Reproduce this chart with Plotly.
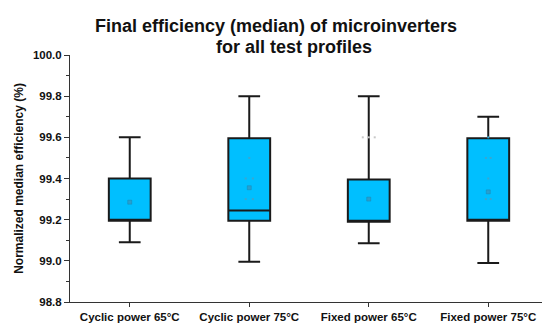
import plotly.graph_objects as go

categories = ["Cyclic power 65°C", "Cyclic power 75°C", "Fixed power 65°C", "Fixed power 75°C"]
q1 = [99.195, 99.195, 99.19, 99.195]
median = [99.195, 99.245, 99.19, 99.195]
q3 = [99.40, 99.595, 99.395, 99.595]
lower_whisker = [99.09, 98.995, 99.085, 98.99]
upper_whisker = [99.60, 99.80, 99.80, 99.70]
means = [99.285, 99.355, 99.30, 99.335]

# faint individual points (category index, value, horizontal jitter)
pt_cat = [1, 1, 1, 1, 1, 3, 3, 3, 3, 3, 3]
pt_val = [99.50, 99.40, 99.40, 99.30, 99.30, 99.50, 99.50, 99.40, 99.30, 99.30, 99.60]
pt_jit = [0.0, -0.03, 0.03, -0.03, 0.03, -0.02, 0.02, 0.0, -0.02, 0.02, 0.0]
grey_cat = [2, 2, 2]
grey_val = [99.60, 99.60, 99.60]
grey_jit = [-0.05, 0.0, 0.05]

FILL = "#00BFFF"
LINE = "#1a1a1a"
FONT = "Liberation Sans, Arial, sans-serif"

L, R, T, B = 62, 10, 47, 28
PW = 550 - L - R

fig = go.Figure()
for i, c in enumerate(categories):
    fig.add_trace(go.Box(
        x=[i], q1=[q1[i]], median=[median[i]], q3=[q3[i]],
        lowerfence=[lower_whisker[i]], upperfence=[upper_whisker[i]],
        fillcolor=FILL, line=dict(color=LINE, width=2),
        width=0.35, whiskerwidth=0.52, boxpoints=False, showlegend=False,
        hoverinfo="skip",
    ))

fig.add_trace(go.Scatter(
    x=[c + j for c, j in zip(pt_cat, pt_jit)], y=pt_val, mode="markers",
    marker=dict(symbol="square", size=2, color="#3aa6d0"), showlegend=False, hoverinfo="skip"))
fig.add_trace(go.Scatter(
    x=[c + j for c, j in zip(grey_cat, grey_jit)], y=grey_val, mode="markers",
    marker=dict(symbol="square", size=2, color="#c8c8c8"), showlegend=False, hoverinfo="skip"))
fig.add_trace(go.Scatter(
    x=list(range(len(categories))), y=means, mode="markers",
    marker=dict(symbol="square", size=4, color="#2a9fce", line=dict(color="#1d86b3", width=0.5)),
    showlegend=False, hoverinfo="skip"))

fig.add_annotation(text="<b>Final efficiency (median) of microinverters</b>", xref="paper", yref="paper",
                   x=(268 - L) / PW, y=1, yshift=T - 18, yanchor="middle", showarrow=False,
                   font=dict(family=FONT, size=18, color="#111111"))
fig.add_annotation(text="<b>for all test profiles</b>", xref="paper", yref="paper",
                   x=(285.5 - L) / PW, y=1, yshift=T - 39, yanchor="middle", showarrow=False,
                   font=dict(family=FONT, size=18, color="#111111"))

fig.update_layout(
    width=550, height=325,
    margin=dict(l=L, r=R, t=T, b=B),
    paper_bgcolor="white", plot_bgcolor="white",
    font=dict(family=FONT, color="#111111"),
    xaxis=dict(
        range=[-0.5, 3.5], tickmode="array", tickvals=list(range(len(categories))),
        ticktext=["<b>%s</b>" % c for c in categories],
        showline=True, linecolor="#333333", linewidth=1, ticks="outside", ticklen=4,
        tickcolor="#333333", showgrid=False, zeroline=False,
        tickfont=dict(family=FONT, size=11.5, color="#111111"),
    ),
    yaxis=dict(
        range=[98.8, 100.0], tickmode="array",
        tickvals=[98.8, 99.0, 99.2, 99.4, 99.6, 99.8, 100.0],
        ticktext=["<b>%.1f</b>" % v for v in [98.8, 99.0, 99.2, 99.4, 99.6, 99.8, 100.0]],
        showline=True, linecolor="#333333", linewidth=1, ticks="outside", ticklen=5,
        tickcolor="#333333", showgrid=False, zeroline=False,
        tickfont=dict(family=FONT, size=11.5, color="#111111"),
        minor=dict(tickvals=[98.9, 99.1, 99.3, 99.5, 99.7, 99.9], ticks="outside", ticklen=3, tickcolor="#333333"),
        title=dict(text="<b>Normalized median efficiency (%)</b>", font=dict(family=FONT, size=12), standoff=6),
    ),
)

fig.write_html("out.html")
